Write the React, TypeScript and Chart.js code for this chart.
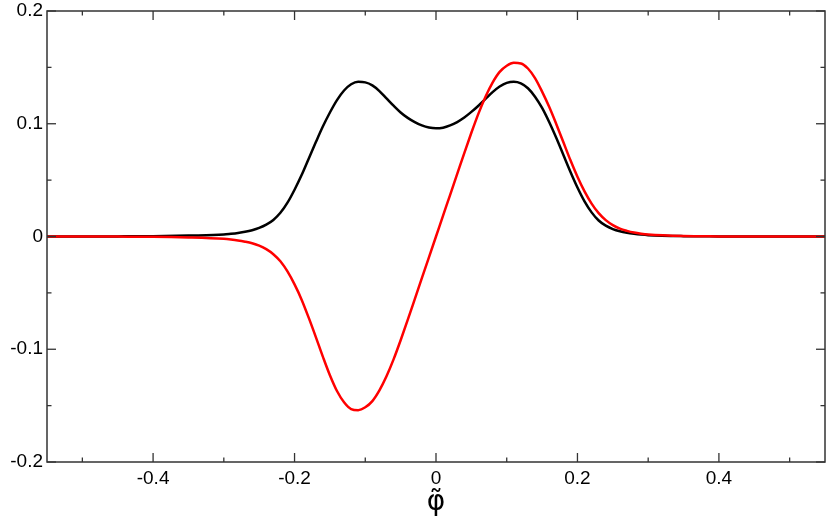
import React, { useEffect, useRef } from "react";
import { Chart, registerables } from "chart.js";

Chart.register(...registerables);

const xs = [
  -0.55, -0.5, -0.45, -0.4, -0.35,
  -0.3, -0.29, -0.28, -0.27, -0.26, -0.25, -0.24, -0.23, -0.22, -0.21,
  -0.2, -0.19, -0.18, -0.17, -0.16, -0.15, -0.14, -0.13, -0.12, -0.11,
  -0.1, -0.09, -0.08, -0.07, -0.06, -0.05, -0.04, -0.03, -0.02, -0.01,
  0,
  0.01, 0.02, 0.03, 0.04, 0.05, 0.06, 0.07, 0.08, 0.09, 0.1,
  0.11, 0.12, 0.13, 0.14, 0.15, 0.16, 0.17, 0.18, 0.19, 0.2,
  0.21, 0.22, 0.23, 0.24, 0.25, 0.26, 0.27, 0.28, 0.29, 0.3,
  0.35, 0.4, 0.45, 0.5, 0.55,
];

const blackVals = [
  0, 0, 0.0001, 0.0003, 0.0008,
  0.0017, 0.0024, 0.0032, 0.0042, 0.0056, 0.0076, 0.0105, 0.0147, 0.021, 0.03,
  0.0415, 0.0545, 0.069, 0.0835, 0.0975, 0.11, 0.121, 0.1295, 0.135, 0.1372,
  0.1367, 0.134, 0.129, 0.1225, 0.116, 0.11, 0.1052, 0.1015, 0.0985, 0.0966,
  0.0959,
  0.0965, 0.0985, 0.1015, 0.1055, 0.1105, 0.116, 0.122, 0.128, 0.133, 0.1362,
  0.1372, 0.1358, 0.1315, 0.124, 0.114, 0.1015, 0.0875, 0.0725, 0.0575, 0.0435,
  0.0312, 0.0214, 0.0142, 0.0096, 0.0066, 0.0046, 0.0033, 0.0024, 0.0017, 0.0012,
  0.0003, 0.0001, 0, 0, 0,
];

const redVals = [
  0, 0, -0.0001, -0.0002, -0.0008,
  -0.0021, -0.0027, -0.0035, -0.0046, -0.006, -0.0081, -0.0112, -0.0157, -0.022, -0.031,
  -0.0425, -0.056, -0.072, -0.089, -0.1065, -0.123, -0.137, -0.147, -0.153, -0.154,
  -0.1515, -0.146, -0.1365, -0.124, -0.109, -0.092, -0.074, -0.0555, -0.037, -0.0185,
  0,
  0.0185, 0.037, 0.0555, 0.074, 0.092, 0.109, 0.124, 0.1365, 0.146, 0.1515,
  0.154, 0.1535, 0.149, 0.1405, 0.1285, 0.115, 0.0998, 0.0838, 0.0678, 0.053,
  0.04, 0.0292, 0.0207, 0.0145, 0.0101, 0.007, 0.005, 0.0035, 0.0025, 0.0018,
  0.0004, 0.0001, 0, 0, 0,
];

const xMajorTicks = [-0.4, -0.2, 0, 0.2, 0.4];
const xMinorTicks = [-0.5, -0.3, -0.1, 0.1, 0.3, 0.5];
const yMajorTicks = [-0.2, -0.1, 0, 0.1, 0.2];
const yMinorTicks = [-0.15, -0.05, 0.05, 0.15];
const xTitle = "\u03C6\u0303";

const frameTicks = {
  id: "frameTicks",
  afterDatasetsDraw(chart: any) {
    const { ctx, chartArea, scales } = chart;
    const { left, right, top, bottom } = chartArea;
    const x = scales.x;
    const y = scales.y;
    ctx.save();
    ctx.strokeStyle = "#333";
    ctx.lineWidth = 1.5;
    ctx.strokeRect(left, top, right - left, bottom - top);
    ctx.lineWidth = 1.3;
    const seg = (x1: number, y1: number, x2: number, y2: number) => {
      ctx.beginPath();
      ctx.moveTo(x1, y1);
      ctx.lineTo(x2, y2);
      ctx.stroke();
    };
    const drawX = (vals: number[], len: number) => {
      for (const v of vals) {
        const px = x.getPixelForValue(v);
        seg(px, bottom, px, bottom - len);
        seg(px, top, px, top + len);
      }
    };
    const drawY = (vals: number[], len: number) => {
      for (const v of vals) {
        const py = y.getPixelForValue(v);
        seg(left, py, left + len, py);
        seg(right, py, right - len, py);
      }
    };
    drawX(xMajorTicks, 9);
    drawX(xMinorTicks, 4.5);
    drawY(yMajorTicks, 9);
    drawY(yMinorTicks, 4.5);
    ctx.restore();
  },
};

export default function App() {
  const ref = useRef<HTMLCanvasElement | null>(null);
  useEffect(() => {
    if (!ref.current) return;
    const chart = new Chart(ref.current, {
      type: "line",
      data: {
        datasets: [
          {
            label: "red",
            data: xs.map((x, i) => ({ x, y: redVals[i] })),
            borderColor: "#ff0000",
            borderWidth: 2.5,
            pointRadius: 0,
            cubicInterpolationMode: "monotone",
            fill: false,
          },
          {
            label: "black",
            data: xs.map((x, i) => ({ x, y: blackVals[i] })),
            borderColor: "#000000",
            borderWidth: 2.5,
            pointRadius: 0,
            cubicInterpolationMode: "monotone",
            fill: false,
          },
        ],
      },
      options: {
        animation: false,
        responsive: false,
        devicePixelRatio: 1,
        layout: { padding: { top: 0, right: 5, left: 0, bottom: 0 } },
        plugins: {
          legend: { display: false },
          tooltip: { enabled: false },
        },
        scales: {
          x: {
            type: "linear",
            min: -0.55,
            max: 0.55,
            afterBuildTicks: (s: any) => {
              s.ticks = xMajorTicks.map((v) => ({ value: v }));
            },
            afterFit: (s: any) => {
              s.height = 59;
            },
            grid: { display: false, drawTicks: false },
            border: { display: false },
            ticks: {
              color: "#000",
              font: { family: "'Liberation Sans', Arial, sans-serif", size: 19 },
              padding: 5,
              maxRotation: 0,
              callback: (v: any) => String(Number(v)),
            },
            title: {
              display: true,
              text: xTitle,
              color: "#000",
              font: { family: "'DejaVu Sans', sans-serif", size: 28 },
              padding: { top: 0, bottom: 1 },
            },
          },
          y: {
            type: "linear",
            min: -0.2,
            max: 0.2,
            afterBuildTicks: (s: any) => {
              s.ticks = yMajorTicks.map((v) => ({ value: v }));
            },
            afterFit: (s: any) => {
              s.width = 47;
              s.paddingTop = 11;
              s.paddingBottom = 0;
            },
            grid: { display: false, drawTicks: false },
            border: { display: false },
            ticks: {
              color: "#000",
              font: { family: "'Liberation Sans', Arial, sans-serif", size: 19 },
              padding: 4,
              callback: (v: any) => String(Math.round(Number(v) * 10) / 10),
            },
          },
        },
      },
      plugins: [frameTicks],
    } as any);
    return () => chart.destroy();
  }, []);
  return (
    <div style={{ position: "absolute", left: 0, top: 0, width: 830, height: 521, background: "#fff" }}>
      <canvas ref={ref} width={830} height={521} />
    </div>
  );
}
